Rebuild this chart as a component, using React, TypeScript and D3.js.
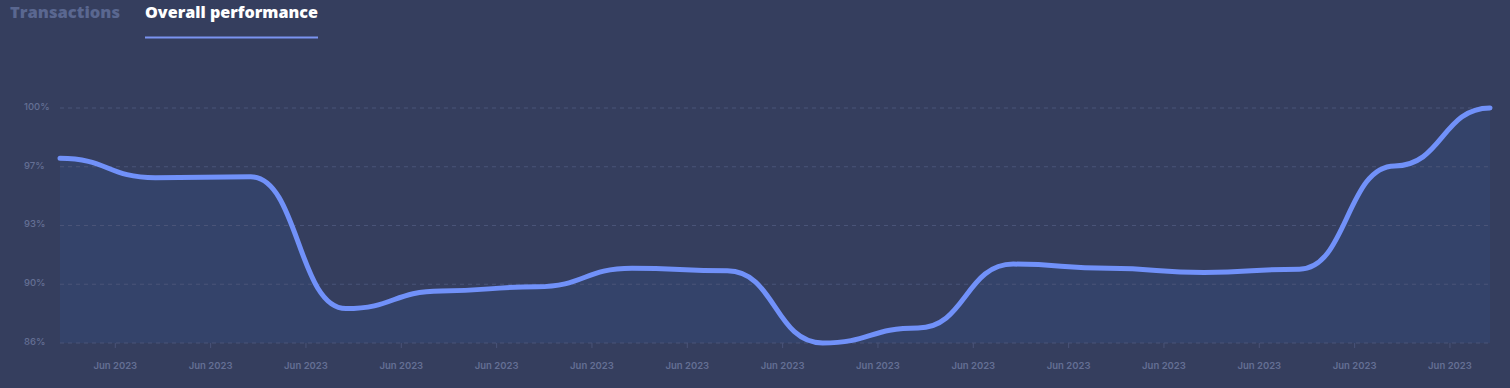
import { useEffect, useRef } from 'react';
import * as d3 from 'd3';

const WIDTH = 1510;
const HEIGHT = 388;

// performance values (%) per sample point
const values = [97.0, 95.85, 95.9, 88.05, 89.1, 89.35, 90.45, 90.3, 86.0, 86.9, 90.7, 90.45, 90.2, 90.4, 96.55, 100.0];
// x axis ticks sit between sample points
const xTickPositions = [0.58, 1.58, 2.58, 3.58, 4.58, 5.58, 6.58, 7.58, 8.58, 9.58, 10.58, 11.58, 12.58, 13.58, 14.58];
const xTickLabels = xTickPositions.map(() => 'Jun 2023');
const yTicks = [86, 89.5, 93, 96.5, 100];
const yTickLabels = ['86%', '90%', '93%', '97%', '100%'];
const tabs = ['Transactions', 'Overall performance'];

const BG = '#353e5e';
const LINE = '#7191f9';
const MUTED = '#646f94';

export default function App() {
  const svgRef = useRef<SVGSVGElement>(null);

  useEffect(() => {
    if (!svgRef.current) return;
    const svg = d3.select(svgRef.current);
    svg.selectAll('*').remove();

    const margin = { top: 108, right: 20, bottom: 45, left: 60 };
    const w = WIDTH - margin.left - margin.right;
    const h = HEIGHT - margin.top - margin.bottom;

    const x = d3.scaleLinear().domain([0, values.length - 1]).range([margin.left, margin.left + w]);
    const y = d3.scaleLinear().domain([86, 100]).range([margin.top + h, margin.top]);

    // Tabs
    const tabG = svg.append('g').attr('font-family', '"Open Sans", Lato, sans-serif').attr('font-weight', 800);
    tabG.append('text').attr('x', 10).attr('y', 18).attr('font-size', 15.5).attr('fill', '#5a6790')
      .attr('textLength', 110).attr('lengthAdjust', 'spacingAndGlyphs').text(tabs[0]);
    tabG.append('text').attr('x', 145).attr('y', 18).attr('font-size', 15.5).attr('fill', '#ffffff')
      .attr('textLength', 173).attr('lengthAdjust', 'spacingAndGlyphs').text(tabs[1]);
    tabG.append('line').attr('x1', 145).attr('x2', 318).attr('y1', 37.5).attr('y2', 37.5)
      .attr('stroke', '#7b93f0').attr('stroke-width', 2);

    // Area
    const area = d3.area<number>().x((_, i) => x(i)).y0(y(86)).y1(d => y(d)).curve(d3.curveBumpX);
    svg.append('path').datum(values).attr('d', area).attr('fill', '#34446c').attr('fill-opacity', 0.85);

    // Grid
    svg.append('g').selectAll('line').data(yTicks).join('line')
      .attr('x1', x(0)).attr('x2', x(values.length - 1))
      .attr('y1', d => y(d)).attr('y2', d => y(d))
      .attr('stroke', '#4a5478').attr('stroke-width', 1).attr('stroke-dasharray', '4,4');

    // Y labels
    svg.append('g').selectAll('text').data(yTicks).join('text')
      .attr('x', 24).attr('y', d => y(d) - 1.5).attr('dy', '0.35em')
      .attr('font-family', 'Inter, sans-serif').attr('font-size', 9.5).attr('font-weight', 500)
      .attr('fill', MUTED).text((_, i) => yTickLabels[i]);

    // X ticks
    const xt = svg.append('g');
    xt.selectAll('line').data(xTickPositions).join('line')
      .attr('x1', d => x(d)).attr('x2', d => x(d)).attr('y1', y(86)).attr('y2', y(86) + 5)
      .attr('stroke', '#4a5478');
    xt.selectAll('text').data(xTickPositions).join('text')
      .attr('x', d => x(d)).attr('y', 369).attr('text-anchor', 'middle')
      .attr('font-family', 'Inter, sans-serif').attr('font-size', 9.5).attr('font-weight', 600)
      .attr('fill', MUTED).text((_, i) => xTickLabels[i]);

    // Line
    const line = d3.line<number>().x((_, i) => x(i)).y(d => y(d)).curve(d3.curveBumpX);
    svg.append('path').datum(values).attr('d', line).attr('fill', 'none')
      .attr('stroke', LINE).attr('stroke-width', 5).attr('stroke-linecap', 'round').attr('stroke-linejoin', 'round');
  }, []);

  return (
    <div style={{ position: 'fixed', left: 0, top: 0, width: WIDTH, height: HEIGHT, background: BG }}>
      <svg ref={svgRef} width={WIDTH} height={HEIGHT} style={{ display: 'block' }} />
    </div>
  );
}
